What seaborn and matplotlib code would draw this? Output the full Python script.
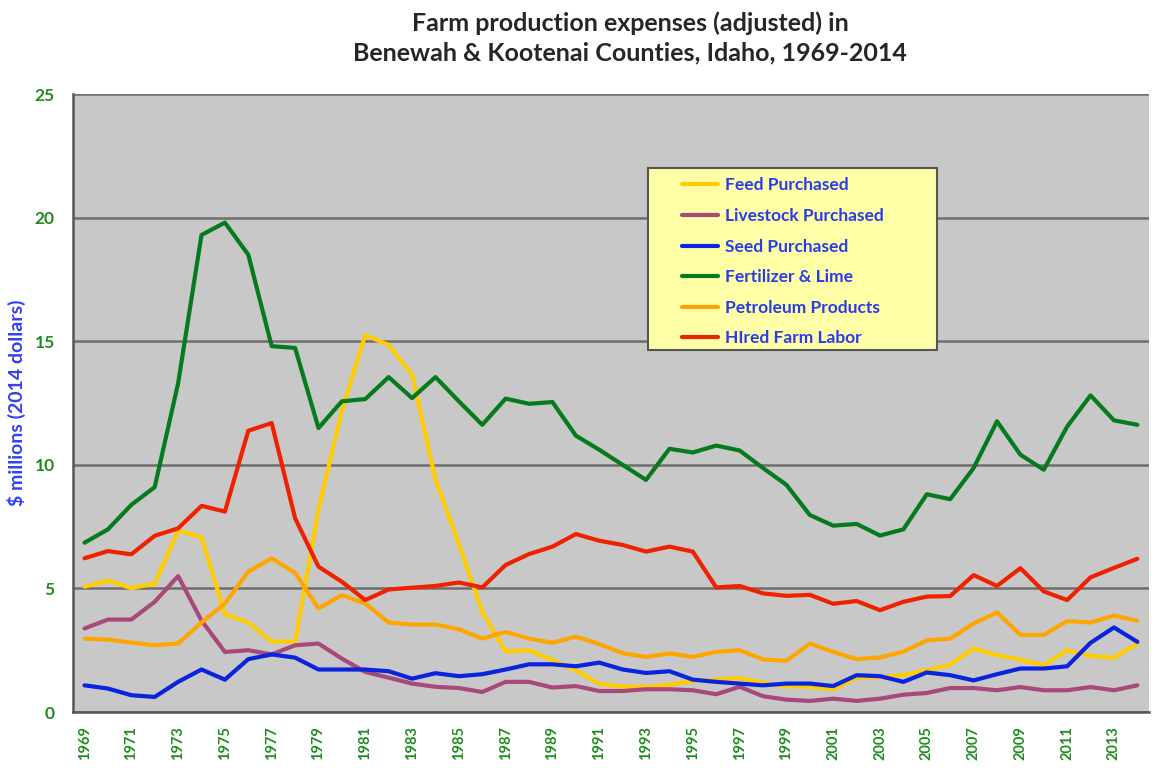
import seaborn as sns
import matplotlib.pyplot as plt
import pandas as pd
from matplotlib.lines import Line2D
from matplotlib.patches import Rectangle

years = list(range(1969, 2015))

feed = [5.07, 5.32, 5.01, 5.19, 7.34, 7.07, 3.96, 3.62, 2.85, 2.85,
        8.2, 12.2, 15.25, 14.85, 13.65, 9.4, 6.8, 4.05, 2.45, 2.5,
        2.1, 1.68, 1.14, 1.03, 1.02, 1.1, 1.26, 1.31, 1.37, 1.19,
        1.04, 1.02, 0.92, 1.39, 1.41, 1.5, 1.69, 1.92, 2.57, 2.3,
        2.12, 1.89, 2.5, 2.27, 2.2, 2.77]
livestock = [3.38, 3.74, 3.74, 4.46, 5.5, 3.7, 2.43, 2.5, 2.33, 2.7,
             2.77, 2.16, 1.62, 1.39, 1.15, 1.02, 0.97, 0.81, 1.22, 1.22,
             0.99, 1.05, 0.85, 0.85, 0.92, 0.92, 0.88, 0.72, 1.02, 0.64,
             0.5, 0.45, 0.54, 0.45, 0.54, 0.7, 0.77, 0.97, 0.97, 0.88,
             1.01, 0.88, 0.88, 1.01, 0.88, 1.08]
seed = [1.08, 0.95, 0.68, 0.61, 1.22, 1.72, 1.31, 2.14, 2.33, 2.2,
        1.72, 1.72, 1.72, 1.65, 1.35, 1.57, 1.45, 1.53, 1.72, 1.93,
        1.93, 1.85, 2.0, 1.72, 1.58, 1.65, 1.31, 1.22, 1.15, 1.08,
        1.15, 1.15, 1.05, 1.49, 1.45, 1.22, 1.6, 1.49, 1.28, 1.53,
        1.76, 1.76, 1.85, 2.8, 3.42, 2.84]
fertilizer = [6.85, 7.39, 8.38, 9.1, 13.3, 19.3, 19.8, 18.5, 14.8, 14.73,
              11.49, 12.57, 12.66, 13.55, 12.7, 13.55, 12.57, 11.62, 12.68, 12.47,
              12.54, 11.18, 10.61, 10.0, 9.39, 10.65, 10.5, 10.78, 10.58, 9.87,
              9.19, 7.97, 7.54, 7.61, 7.14, 7.39, 8.81, 8.61, 9.87, 11.76,
              10.41, 9.8, 11.55, 12.81, 11.8, 11.62]
petroleum = [2.97, 2.93, 2.81, 2.7, 2.77, 3.62, 4.39, 5.68, 6.22, 5.63,
             4.19, 4.73, 4.39, 3.62, 3.54, 3.54, 3.35, 2.97, 3.24, 2.97,
             2.8, 3.05, 2.75, 2.38, 2.23, 2.37, 2.23, 2.43, 2.5, 2.13,
             2.07, 2.77, 2.43, 2.14, 2.21, 2.44, 2.9, 2.97, 3.58, 4.03,
             3.12, 3.12, 3.68, 3.62, 3.9, 3.69]
labor = [6.22, 6.51, 6.38, 7.13, 7.43, 8.34, 8.11, 11.38, 11.69, 7.84,
         5.88, 5.27, 4.53, 4.96, 5.03, 5.1, 5.24, 5.04, 5.95, 6.39,
         6.69, 7.2, 6.93, 6.76, 6.49, 6.69, 6.49, 5.04, 5.1, 4.8,
         4.7, 4.74, 4.38, 4.49, 4.12, 4.46, 4.67, 4.69, 5.54, 5.1,
         5.82, 4.88, 4.53, 5.45, 5.83, 6.2]

series_names = ["Feed Purchased", "Livestock Purchased", "Seed Purchased",
                "Fertilizer & Lime", "Petroleum Products", "HIred Farm Labor"]
colors = ["#FFCC00", "#A8497C", "#0A23DC", "#067A1C", "#FFA500", "#EE2200"]

df = pd.DataFrame({"idx": range(len(years)), "year": years,
                   series_names[0]: feed, series_names[1]: livestock,
                   series_names[2]: seed, series_names[3]: fertilizer,
                   series_names[4]: petroleum, series_names[5]: labor})
long = df.melt(id_vars=["idx", "year"], var_name="series", value_name="value")

sns.set_style("white")
plt.rcParams['font.family'] = ['Lato', 'DejaVu Sans']

fig = plt.figure(figsize=(11.56, 7.71), dpi=100)
ax = fig.add_axes([0.063, 0.0765, 0.931, 0.8015])
ax.set_facecolor("#C8C8C8")

sns.lineplot(data=long, x="idx", y="value", hue="series", hue_order=series_names,
             palette=dict(zip(series_names, colors)), linewidth=3, ax=ax,
             legend=False)

ax.set_xlim(-0.5, len(years) - 0.5)
ax.set_ylim(0, 25)
ax.set_yticks([0, 5, 10, 15, 20, 25])
ax.yaxis.grid(True, color="#6E6E6E", linewidth=1.8)
ax.set_axisbelow(True)

ax.set_xticks(range(0, len(years), 2))
ax.set_xticklabels([str(y) for y in years[::2]], rotation=90)
ax.set_xticks([i - 0.5 for i in range(len(years) + 1)], minor=True)
ax.tick_params(axis="x", which="major", length=0, pad=10)
ax.tick_params(axis="x", which="minor", length=6, width=1.5, color="#555555",
               direction="out")
ax.tick_params(axis="y", length=7, width=1.5, color="#555555", direction="out",
               pad=6)

for lab in ax.get_xticklabels():
    lab.set_color("#1E8C1E")
    lab.set_fontweight("bold")
    lab.set_fontsize(10.5)
for lab in ax.get_yticklabels():
    lab.set_color("#1E8C1E")
    lab.set_fontweight("bold")
    lab.set_fontsize(12.5)

for side in ["top", "right"]:
    ax.spines[side].set_visible(False)
for side in ["left", "bottom"]:
    ax.spines[side].set_color("#555555")
    ax.spines[side].set_linewidth(1.8)

ax.set_xlabel("")
ax.set_ylabel("$ millions (2014 dollars)", color="#3340F0", fontweight="bold",
              fontsize=14, labelpad=6)

fig.text(0.545, 0.985,
         "Farm production expenses (adjusted) in\nBenewah & Kootenai Counties, Idaho, 1969-2014",
         ha="center", va="top", fontsize=18, fontweight="bold", linespacing=1.35)

# legend box (yellow panel) with legend entries drawn on top
ax.add_patch(Rectangle((0.5344, 0.586), 0.2686, 0.294, transform=ax.transAxes,
                       facecolor="#FFFFA8", edgecolor="#555555", linewidth=1.5,
                       zorder=4))
handles = [Line2D([0], [0], color=c, linewidth=3) for c in colors]
leg = ax.legend(handles, series_names, loc="upper left",
                bbox_to_anchor=(0.566, 0.865), frameon=False,
                fontsize=12.5, handlelength=2.1, handletextpad=0.4,
                labelspacing=0.84, borderpad=0, borderaxespad=0)
leg.set_zorder(5)
for t in leg.get_texts():
    t.set_color("#2A3BE8")
    t.set_fontweight("bold")

fig.savefig("out.png", dpi=100)
